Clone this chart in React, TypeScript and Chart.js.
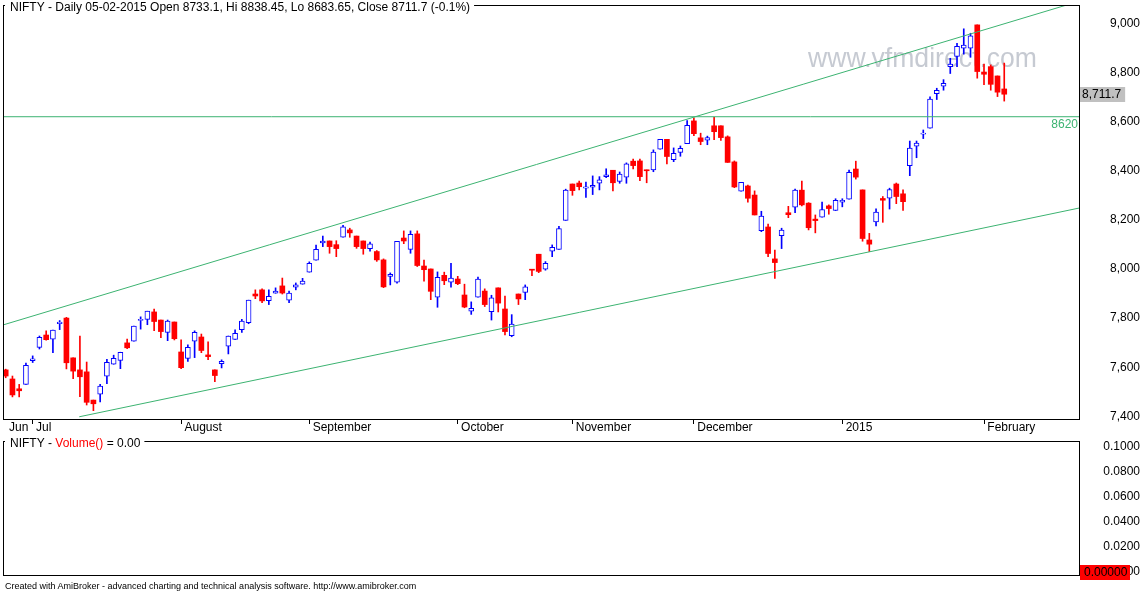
import React, { useEffect, useRef } from 'react';
import { Chart, registerables } from 'chart.js';

Chart.register(...registerables);

// NIFTY daily bars, 25-06-2014 .. 05-02-2015
const OPEN = [
  7589, 7552, 7512, 7530, 7627, 7681, 7731, 7714, 7777, 7800,
  7638, 7589, 7581, 7466, 7490, 7563, 7612, 7628, 7699, 7706,
  7790, 7795, 7825, 7792, 7742, 7784, 7662, 7636, 7706, 7723,
  7650, 7589, 7614, 7686, 7713, 7753, 7781, 7898, 7915, 7871,
  7901, 7931, 7873, 7926, 7938, 7987, 8036, 8106, 8114, 8099,
  8129, 8159, 8134, 8114, 8083, 8071, 8037, 7970, 7946, 8126,
  8080, 8143, 8012, 8000, 7885, 7974, 7946, 7959, 7894, 7828,
  7885, 7910, 7826, 7923, 7837, 7728, 7898, 7905, 7999, 8060,
  7999, 8072, 8080, 8198, 8346, 8350, 8329, 8333, 8349, 8376,
  8402, 8357, 8374, 8439, 8440, 8403, 8403, 8488, 8528, 8445,
  8475, 8510, 8603, 8534, 8525, 8583, 8583, 8538, 8436, 8317,
  8338, 8301, 8156, 8171, 8041, 8136, 8229, 8252, 8321, 8268,
  8203, 8211, 8257, 8238, 8272, 8284, 8407, 8322, 8118, 8192,
  8287, 8288, 8346, 8306, 8421, 8500, 8549, 8573, 8714, 8744,
  8824, 8866, 8899, 8899, 8994, 8802, 8824, 8786, 8733.1,
];
const HIGH = [
  7592, 7564, 7530, 7617, 7646, 7727, 7748, 7751, 7790, 7803,
  7638, 7727, 7621, 7466, 7530, 7632, 7649, 7661, 7714, 7767,
  7805, 7828, 7837, 7792, 7792, 7784, 7711, 7691, 7748, 7735,
  7703, 7589, 7630, 7727, 7752, 7795, 7873, 7915, 7919, 7915,
  7923, 7963, 7910, 7943, 7962, 8029, 8097, 8134, 8114, 8115,
  8178, 8166, 8134, 8114, 8110, 8075, 8041, 7984, 8113, 8155,
  8155, 8155, 8036, 8000, 7988, 7987, 8023, 7970, 7938, 7866,
  7967, 7919, 7893, 7923, 7890, 7814, 7898, 7935, 7999, 8060,
  8030, 8098, 8174, 8325, 8346, 8358, 8354, 8379, 8376, 8408,
  8402, 8395, 8432, 8448, 8448, 8403, 8485, 8528, 8528, 8493,
  8501, 8604, 8616, 8553, 8541, 8618, 8583, 8542, 8440, 8353,
  8342, 8318, 8235, 8183, 8077, 8166, 8255, 8325, 8358, 8270,
  8220, 8272, 8261, 8286, 8286, 8403, 8439, 8322, 8145, 8245,
  8295, 8329, 8350, 8322, 8521, 8521, 8566, 8701, 8736, 8771,
  8858, 8919, 8978, 8960, 8994, 8834, 8831, 8786, 8838.45,
];
const LOW = [
  7557, 7479, 7479, 7530, 7619, 7674, 7710, 7659, 7753, 7593,
  7553, 7480, 7446, 7423, 7459, 7533, 7612, 7594, 7675, 7706,
  7755, 7773, 7749, 7720, 7708, 7711, 7594, 7624, 7639, 7659,
  7631, 7541, 7597, 7654, 7713, 7742, 7777, 7879, 7863, 7855,
  7901, 7898, 7863, 7915, 7938, 7987, 8036, 8091, 8064, 8050,
  8129, 8129, 8084, 8060, 8072, 8031, 7924, 7935, 7942, 8103,
  8064, 8010, 7950, 7875, 7844, 7936, 7926, 7936, 7842, 7815,
  7885, 7847, 7792, 7825, 7731, 7724, 7855, 7875, 7973, 7985,
  7995, 8050, 8080, 8198, 8300, 8322, 8291, 8303, 8322, 8372,
  8318, 8349, 8349, 8407, 8360, 8351, 8396, 8488, 8428, 8437,
  8459, 8510, 8543, 8506, 8506, 8527, 8523, 8434, 8331, 8317,
  8272, 8220, 8152, 8050, 7961, 8083, 8209, 8229, 8257, 8159,
  8147, 8211, 8223, 8238, 8253, 8284, 8366, 8113, 8071, 8175,
  8190, 8244, 8266, 8238, 8380, 8453, 8531, 8573, 8690, 8728,
  8796, 8824, 8875, 8862, 8777, 8751, 8728, 8702, 8683.65,
];
const CLOSE = [
  7564, 7487, 7504, 7608, 7634, 7722, 7712, 7751, 7784, 7618,
  7584, 7561, 7457, 7451, 7523, 7620, 7636, 7661, 7679, 7767,
  7795, 7828, 7786, 7745, 7788, 7716, 7598, 7681, 7742, 7668,
  7643, 7566, 7624, 7727, 7738, 7788, 7873, 7890, 7870, 7889,
  7910, 7902, 7902, 7935, 7951, 8023, 8080, 8114, 8091, 8083,
  8172, 8147, 8091, 8083, 8102, 8037, 7927, 7978, 8113, 8114,
  8141, 8014, 7997, 7909, 7966, 7952, 7963, 7940, 7845, 7840,
  7959, 7855, 7882, 7861, 7745, 7776, 7878, 7927, 7995, 7990,
  8023, 8088, 8164, 8321, 8319, 8335, 8334, 8341, 8363, 8383,
  8351, 8386, 8428, 8421, 8376, 8400, 8476, 8528, 8458, 8471,
  8491, 8585, 8551, 8519, 8535, 8559, 8535, 8434, 8334, 8353,
  8288, 8220, 8215, 8063, 8026, 8158, 8221, 8321, 8261, 8168,
  8197, 8242, 8246, 8280, 8280, 8394, 8374, 8124, 8101, 8232,
  8280, 8323, 8295, 8274, 8492, 8513, 8551, 8692, 8728, 8756,
  8834, 8907, 8912, 8949, 8804, 8793, 8752, 8720, 8711.7,
];
const LAST_DATE = '05-02-2015';
const LAST_VOLUME = 0;

// month labels and the bar index where each month starts
const MONTH_LABELS = ['Jun', 'Jul', 'August', 'September', 'October', 'November', 'December', '2015', 'February'];
const MONTH_BARS = [0, 4, 26, 45, 67, 84, 102, 124, 145];

const PRICE_TICKS = [7400, 7600, 7800, 8000, 8200, 8400, 8600, 8800, 9000];
const VOLUME_TICKS = [0, 0.02, 0.04, 0.06, 0.08, 0.1];

// trend channel (bar index, price) and the horizontal level
const UPPER_CHANNEL = [{ x: -0.4, y: 7772 }, { x: 161, y: 9106 }];
const LOWER_CHANNEL = [{ x: 10.9, y: 7398 }, { x: 161, y: 8259 }];
const LEVEL = 8620;
const LEVEL_LINE = [{ x: -1, y: LEVEL }, { x: 161, y: LEVEL }];

const FONT = 'Arial, "Liberation Sans", sans-serif';
const UP = '#0000ff';
const DOWN = '#ff0000';
const TREND = '#3cb371';
const X_MIN = -0.4;
const X_MAX = 159.08;

Chart.defaults.font.family = FONT;

const fmt = (v: number, d = 0) =>
  v.toLocaleString('en-US', { minimumFractionDigits: d, maximumFractionDigits: d });

// right axis: fixed width, no extra padding pushed into the layout
const fitRightAxis = (s: any) => {
  s.width = 61;
  s.paddingTop = 0;
  s.paddingBottom = 0;
};

function drawFrame(chart: any) {
  const { ctx, chartArea: a } = chart;
  ctx.save();
  ctx.strokeStyle = '#000';
  ctx.lineWidth = 1;
  ctx.strokeRect(Math.round(a.left) + 0.5, Math.round(a.top) + 0.5,
    Math.round(a.right - a.left), Math.round(a.bottom - a.top));
  ctx.restore();
}

// AmiBroker style title sitting on the top border
function drawTitle(chart: any, parts: { text: string; color: string }[]) {
  const { ctx, chartArea: a } = chart;
  ctx.save();
  ctx.font = `12px ${FONT}`;
  const total = parts.reduce((s, p) => s + ctx.measureText(p.text).width, 0);
  ctx.fillStyle = '#fff';
  ctx.fillRect(a.left + 2, a.top - 2, total + 9, 4);
  ctx.textBaseline = 'middle';
  let x = a.left + 7;
  parts.forEach((p) => {
    ctx.fillStyle = p.color;
    ctx.fillText(p.text, x, a.top + 2.5);
    x += ctx.measureText(p.text).width;
  });
  ctx.restore();
}

const priceOverlay = {
  id: 'priceOverlay',
  beforeDatasetsDraw(chart: any) {
    const { ctx, chartArea: a } = chart;
    ctx.save();
    ctx.beginPath();
    ctx.rect(a.left, a.top, a.right - a.left, a.bottom - a.top);
    ctx.clip();
    ctx.font = `28px ${FONT}`;
    ctx.fillStyle = '#c6cad2';
    ctx.fillText('www.vfmdirect.com', 808, 67, 229);
    ctx.restore();
  },
  afterDraw(chart: any) {
    const { ctx, chartArea: a, scales } = chart;
    const n = CLOSE.length - 1;
    drawFrame(chart);
    const change = ((CLOSE[n] - CLOSE[n - 1]) / CLOSE[n - 1]) * 100;
    drawTitle(chart, [{
      text: `NIFTY - Daily ${LAST_DATE} Open ${OPEN[n]}, Hi ${HIGH[n]}, Lo ${LOW[n]}, Close ${CLOSE[n]} (${change.toFixed(1)}%)`,
      color: '#000',
    }]);

    ctx.save();
    ctx.font = `12px ${FONT}`;
    ctx.textBaseline = 'middle';
    // level label under the line
    ctx.fillStyle = TREND;
    ctx.textAlign = 'right';
    ctx.fillText(String(LEVEL), a.right - 1, scales.y.getPixelForValue(LEVEL) + 8);
    // last close marker on the axis
    const yc = scales.y.getPixelForValue(CLOSE[n]);
    const label = fmt(CLOSE[n], 1);
    ctx.textAlign = 'left';
    const w = ctx.measureText(label).width + 6;
    ctx.fillStyle = '#c0c0c0';
    ctx.fillRect(a.right + 1, Math.round(yc) - 7, w, 15);
    ctx.fillStyle = '#000';
    ctx.fillText(label, a.right + 3, yc + 0.5);
    ctx.restore();
  },
};

const volumeOverlay = {
  id: 'volumeOverlay',
  afterDraw(chart: any) {
    const { ctx, chartArea: a, scales } = chart;
    drawFrame(chart);
    drawTitle(chart, [
      { text: 'NIFTY - ', color: '#000' },
      { text: 'Volume()', color: '#ff0000' },
      { text: ` = ${LAST_VOLUME.toFixed(2)}`, color: '#000' },
    ]);
    const y0 = scales.y.getPixelForValue(LAST_VOLUME);
    ctx.save();
    ctx.font = `12px ${FONT}`;
    ctx.textBaseline = 'middle';
    ctx.fillStyle = '#ff0000';
    ctx.fillRect(a.right + 1, Math.round(y0) - 7, 50, 15);
    ctx.fillStyle = '#000';
    ctx.fillText(LAST_VOLUME.toFixed(5), a.right + 5, y0 + 0.5);
    ctx.restore();
  },
};

function PriceChart() {
  const canvasRef = useRef<HTMLCanvasElement>(null);

  useEffect(() => {
    if (!canvasRef.current) return;
    const up = OPEN.map((o, i) => CLOSE[i] > o);

    const chart = new Chart(canvasRef.current, {
      type: 'bar',
      data: {
        datasets: [
          {
            type: 'line',
            data: UPPER_CHANNEL,
            borderColor: TREND,
            borderWidth: 1,
            pointRadius: 0,
            order: 0,
          },
          {
            type: 'line',
            data: LOWER_CHANNEL,
            borderColor: TREND,
            borderWidth: 1,
            pointRadius: 0,
            order: 0,
          },
          {
            type: 'line',
            data: LEVEL_LINE,
            borderColor: TREND,
            borderWidth: 1,
            pointRadius: 0,
            order: 0,
          },
          {
            // candle bodies
            type: 'bar',
            data: OPEN.map((o, i) => ({ x: i, y: [o, CLOSE[i]] })),
            backgroundColor: up.map((u) => (u ? '#ffffff' : DOWN)),
            borderColor: up.map((u) => (u ? UP : DOWN)),
            borderWidth: up.map((u) => (u ? 1 : 0)),
            borderSkipped: false,
            barThickness: 5,
            maxBarThickness: 5,
            minBarLength: 1,
            grouped: false,
            order: 1,
          },
          {
            // wicks
            type: 'bar',
            data: LOW.map((l, i) => ({ x: i, y: [l, HIGH[i]] })),
            backgroundColor: up.map((u) => (u ? UP : DOWN)),
            borderWidth: 0,
            barThickness: 1,
            maxBarThickness: 1,
            grouped: false,
            order: 2,
          },
        ],
      } as any,
      options: {
        animation: false,
        responsive: true,
        maintainAspectRatio: false,
        layout: { padding: { left: 3, top: 5, right: 0, bottom: 0 } },
        plugins: { legend: { display: false }, tooltip: { enabled: false }, title: { display: false } },
        scales: {
          x: {
            type: 'linear',
            min: X_MIN,
            max: X_MAX,
            offset: false,
            afterBuildTicks: (s: any) => {
              s.ticks = MONTH_BARS.map((v) => ({ value: v }));
            },
            afterFit: (s: any) => {
              s.height = 17;
              s.paddingLeft = 0;
              s.paddingRight = 0;
            },
            ticks: {
              autoSkip: false,
              maxRotation: 0,
              align: 'start',
              padding: -4,
              color: '#000',
              font: { size: 12, family: FONT },
              callback: (_v: any, i: number) => ' ' + MONTH_LABELS[i],
            },
            grid: {
              offset: false,
              drawOnChartArea: false,
              drawTicks: true,
              tickLength: 5,
              color: (c: any) => (c.index === 0 ? 'rgba(0,0,0,0)' : '#000'),
            },
            border: { display: false },
          },
          y: {
            type: 'linear',
            position: 'right',
            min: 7389,
            max: 9075,
            afterBuildTicks: (s: any) => {
              s.ticks = PRICE_TICKS.map((v) => ({ value: v }));
            },
            afterFit: fitRightAxis,
            ticks: {
              crossAlign: 'far',
              padding: 26,
              color: '#000',
              font: { size: 12, family: FONT },
              callback: (v: any) => fmt(Number(v)),
            },
            grid: { display: false, drawTicks: false },
            border: { display: false },
          },
        },
      } as any,
      plugins: [priceOverlay],
    });

    return () => chart.destroy();
  }, []);

  return (
    <div style={{ position: 'absolute', left: 0, top: 0, width: 1140, height: 436 }}>
      <canvas ref={canvasRef} />
    </div>
  );
}

function VolumePanel() {
  const canvasRef = useRef<HTMLCanvasElement>(null);

  useEffect(() => {
    if (!canvasRef.current) return;
    const chart = new Chart(canvasRef.current, {
      type: 'line',
      data: { datasets: [] },
      options: {
        animation: false,
        responsive: true,
        maintainAspectRatio: false,
        layout: { padding: { left: 3, top: 5, right: 0, bottom: 18 } },
        plugins: { legend: { display: false }, tooltip: { enabled: false } },
        scales: {
          x: { type: 'linear', min: X_MIN, max: X_MAX, display: false },
          y: {
            type: 'linear',
            position: 'right',
            min: -0.00237,
            max: 0.10435,
            afterBuildTicks: (s: any) => {
              s.ticks = VOLUME_TICKS.map((v) => ({ value: v }));
            },
            afterFit: fitRightAxis,
            ticks: {
              crossAlign: 'far',
              padding: 19,
              color: '#000',
              font: { size: 12, family: FONT },
              callback: (v: any) => Number(v).toFixed(4),
            },
            grid: { display: false, drawTicks: false },
            border: { display: false },
          },
        },
      } as any,
      plugins: [volumeOverlay],
    });

    return () => chart.destroy();
  }, []);

  return (
    <div style={{ position: 'absolute', left: 0, top: 436, width: 1140, height: 157 }}>
      <canvas ref={canvasRef} />
    </div>
  );
}

export default function App() {
  return (
    <div
      style={{
        position: 'fixed',
        left: 0,
        top: 0,
        width: 1140,
        height: 593,
        background: '#fff',
        overflow: 'hidden',
      }}
    >
      <PriceChart />
      <VolumePanel />
      <div
        style={{
          position: 'absolute',
          left: 5,
          top: 581,
          font: `9px ${FONT}`,
          lineHeight: '11px',
          color: '#000',
          whiteSpace: 'nowrap',
        }}
      >
        Created with AmiBroker - advanced charting and technical analysis software. http://www.amibroker.com
      </div>
    </div>
  );
}
